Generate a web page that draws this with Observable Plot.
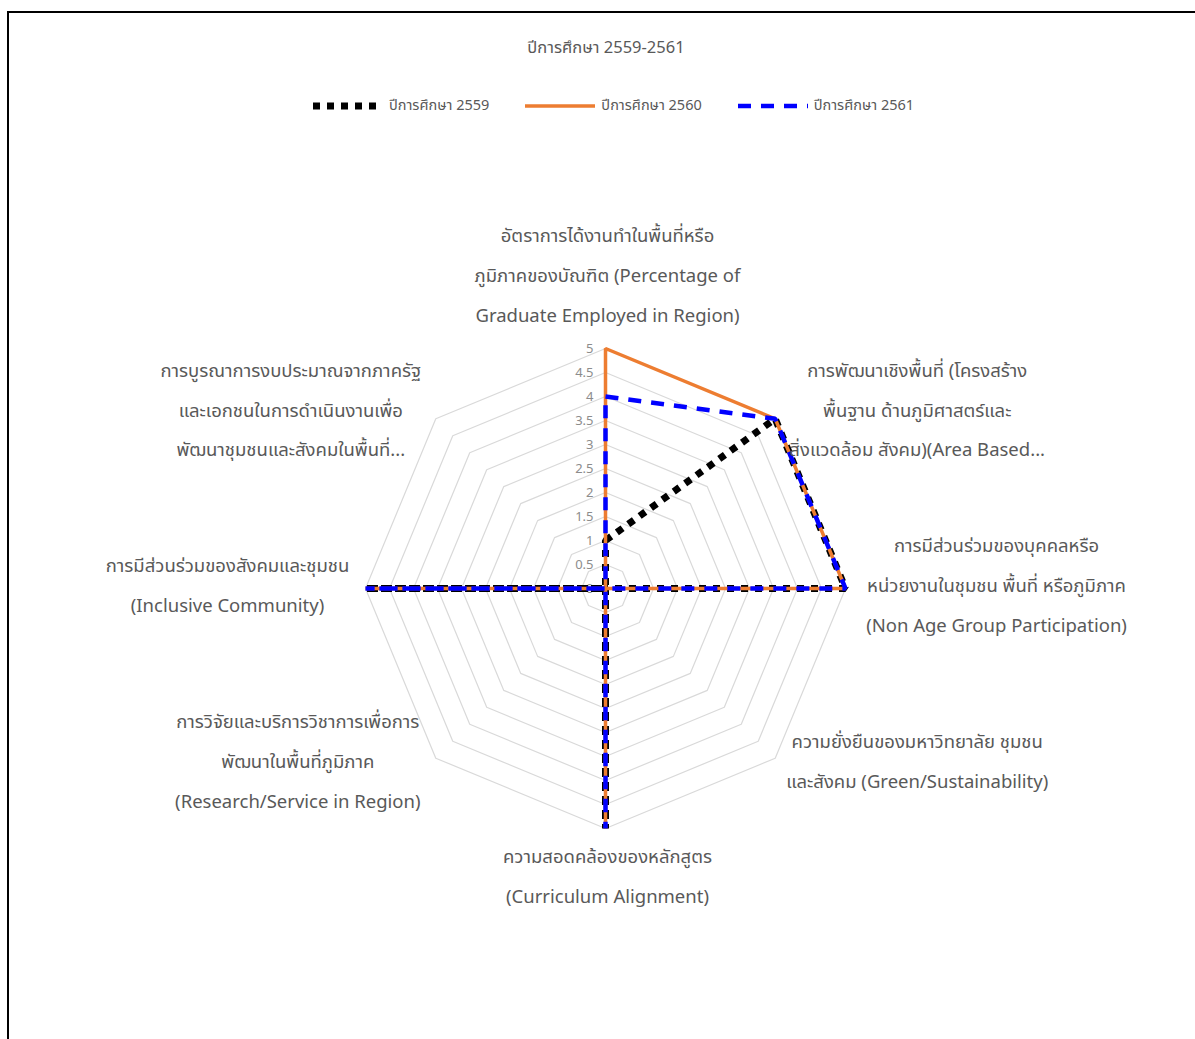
<!DOCTYPE html>
<html>
<head>
<meta charset="utf-8">
<script src="https://cdn.jsdelivr.net/npm/d3@7"></script>
<script src="https://cdn.jsdelivr.net/npm/@observablehq/plot@0.6"></script>
<style>
  html, body { margin: 0; padding: 0; background: #fff; }
  body { width: 1195px; height: 1039px; position: relative; overflow: hidden;
         font-family: "Noto Sans Thai", "Leelawadee UI", Tahoma, "Noto Sans", sans-serif; color: #595959; }
  #frame { position: absolute; left: 7px; top: 11px; width: 1188px; height: 1028px;
           border-top: 2px solid #000; border-left: 2px solid #000; box-sizing: border-box; }
  #title { position: absolute; left: 0; width: 1212px; top: 35px; text-align: center; font-size: 16.5px; color: #595959; }
  #legend { position: absolute; top: 95px; left: 313px; display: flex; align-items: center; font-size: 14.5px; color: #595959; }
  .item { display: flex; align-items: center; margin-right: 36px; }
  .item svg { margin-right: 6px; }
  #chart { position: absolute; left: 9px; top: 130px; }
</style>
</head>
<body>
<div id="frame"></div>
<div id="title">ปีการศึกษา 2559-2561</div>
<div id="legend"></div>
<div id="chart"></div>
<script>
// ---- data ----
const categories = [
  "อัตราการได้งานทำในพื้นที่หรือ\nภูมิภาคของบัณฑิต (Percentage of\nGraduate Employed in Region)",
  "การพัฒนาเชิงพื้นที่ (โครงสร้าง\nพื้นฐาน ด้านภูมิศาสตร์และ\nสิ่งแวดล้อม สังคม)(Area Based...",
  "การมีส่วนร่วมของบุคคลหรือ\nหน่วยงานในชุมชน พื้นที่ หรือภูมิภาค\n(Non Age Group Participation)",
  "ความยั่งยืนของมหาวิทยาลัย ชุมชน\nและสังคม (Green/Sustainability)",
  "ความสอดคล้องของหลักสูตร\n(Curriculum Alignment)",
  "การวิจัยและบริการวิชาการเพื่อการ\nพัฒนาในพื้นที่ภูมิภาค\n(Research/Service in Region)",
  "การมีส่วนร่วมของสังคมและชุมชน\n(Inclusive Community)",
  "การบูรณาการงบประมาณจากภาครัฐ\nและเอกชนในการดำเนินงานเพื่อ\nพัฒนาชุมชนและสังคมในพื้นที่..."
];
const seriesNames = ["ปีการศึกษา 2559", "ปีการศึกษา 2560", "ปีการศึกษา 2561"];
const values2559 = [1, 5, 5, 0, 5, 0, 5, 0];
const values2560 = [5, 5, 5, 0, 5, 0, 5, 0];
const values2561 = [4, 5, 5, 0, 5, 0, 5, 0];
const tickValues = [0, 0.5, 1, 1.5, 2, 2.5, 3, 3.5, 4, 4.5, 5];
const maxValue = 5;

// ---- styles / layout ----
const seriesStyles = [
  {stroke: "#000000", strokeWidth: 7, dash: "7 7"},
  {stroke: "#ED7D31", strokeWidth: 3.5, dash: null},
  {stroke: "#0000FF", strokeWidth: 4.5, dash: "13 10"}
];
// label block centre offsets (px) from each axis' outer vertex
const labelOffsets = [[2,-79],[142,-15],[151,-9],[142,-3],[2,42],[-138,-3],[-138,-9],[-145,-15]];

const W = 1186, H = 909, cx = 596, cy = 458, unit = 48;
const xDomain = [-cx / unit, (W - cx) / unit];
const yDomain = [-(H - cy) / unit, cy / unit];

const n = categories.length;
const ang = i => (i * 2 * Math.PI) / n;
const px = (v, i) => v * Math.sin(ang(i));
const py = (v, i) => v * Math.cos(ang(i));

// grid polygons
const grid = [];
tickValues.filter(t => t > 0).forEach(t => {
  for (let i = 0; i <= n; i++) grid.push({level: t, i: i % n});
});

const seriesData = [values2559, values2560, values2561];
const seriesRows = seriesData.map((vals, s) => {
  const rows = [];
  for (let i = 0; i <= n; i++) rows.push({v: vals[i % n], i: i % n, s});
  return rows;
});

const labelRows = categories.map((c, i) => ({c, i}));

const marks = [
  Plot.line(grid, {x: d => px(d.level, d.i), y: d => py(d.level, d.i), z: "level", stroke: "#d9d9d9", strokeWidth: 1.2}),
  Plot.text(tickValues, {x: 0, y: d => d, text: d => String(d), textAnchor: "end", dx: -12, fill: "#8c8c8c", fontSize: 13})
];
seriesRows.forEach((rows, s) => {
  const st = seriesStyles[s];
  marks.push(Plot.line(rows, {
    x: d => px(d.v, d.i), y: d => py(d.v, d.i),
    stroke: st.stroke, strokeWidth: st.strokeWidth,
    strokeDasharray: st.dash || undefined, strokeLinejoin: "miter", strokeLinecap: "butt", curve: "linear-closed"
  }));
});
labelRows.forEach(d => {
  marks.push(Plot.text([d], {
    x: r => px(maxValue, r.i), y: r => py(maxValue, r.i), text: "c",
    dx: labelOffsets[d.i][0], dy: labelOffsets[d.i][1],
    textAnchor: "middle", lineAnchor: "middle", lineHeight: 2.15,
    fontSize: 18.5, fill: "#595959"
  }));
});

const chart = Plot.plot({
  width: W, height: H, margin: 0,
  x: {domain: xDomain, axis: null},
  y: {domain: yDomain, axis: null},
  style: {fontFamily: '"Noto Sans Thai", "Leelawadee UI", Tahoma, "Noto Sans", sans-serif', background: "transparent"},
  marks
});
document.getElementById("chart").appendChild(chart);

// legend
const legend = document.getElementById("legend");
seriesNames.forEach((name, s) => {
  const st = seriesStyles[s];
  const item = document.createElement("div");
  item.className = "item";
  const sw = d3.create("svg").attr("width", 70).attr("height", 14);
  sw.append("line").attr("x1", 0).attr("x2", 70).attr("y1", 7).attr("y2", 7)
    .attr("stroke", st.stroke).attr("stroke-width", s === 0 ? 7 : st.strokeWidth)
    .attr("stroke-dasharray", st.dash || null);
  item.appendChild(sw.node());
  const t = document.createElement("span");
  t.textContent = name;
  item.appendChild(t);
  legend.appendChild(item);
});
</script>
</body>
</html>
